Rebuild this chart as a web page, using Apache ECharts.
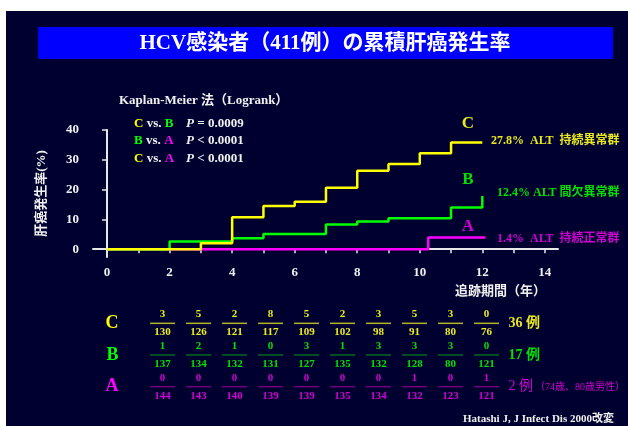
<!DOCTYPE html>
<html>
<head>
<meta charset="utf-8">
<script src="https://cdn.jsdelivr.net/npm/echarts@6/dist/echarts.min.js"></script>
<style>
html, body { margin: 0; padding: 0; background: #fff; }
#chart1 { width: 628px; height: 426px; }
</style>
</head>
<body>
<div id="chart1"></div>
<script>
// axis ticks
var xTicks = [0, 1, 2, 3, 4, 5, 6, 7, 8, 9, 10, 11, 12, 13, 14];
var xLabels = [0, 2, 4, 6, 8, 10, 12, 14];
var yTicks = [0, 10, 20, 30, 40];

// Kaplan-Meier steps [year, cumulative %]
var stepC = [[0, 0], [3, 2.0], [4, 10.7], [5, 14.5], [6, 15.9], [7, 20.6], [8, 26.3], [9, 28.6], [10, 32.2], [11, 35.8], [12, 35.8]];
var stepB = [[0, 0], [2, 2.6], [4, 3.7], [5, 5.1], [7, 8.3], [8, 9.3], [9, 10.4], [11, 14.0], [12, 17.9]];
var stepA = [[0, 0], [10.27, 3.9], [12.1, 3.9]];

// table under the chart
var groups = ['C', 'B', 'A'];
var groupTotals = ['36 例', '17 例', '2 例'];
var groupNote = '（74歳、80歳男性）';
var columns = ['1', '2', '3', '4', '5', '6', '7', '8', '9', '10'];
var eventsC = [3, 5, 2, 8, 5, 2, 3, 5, 3, 0];
var atRiskC = [130, 126, 121, 117, 109, 102, 98, 91, 80, 76];
var eventsB = [1, 2, 1, 0, 3, 1, 3, 3, 3, 0];
var atRiskB = [137, 134, 132, 131, 127, 135, 132, 128, 80, 121];
var eventsA = [0, 0, 0, 0, 0, 0, 0, 1, 0, 1];
var atRiskA = [144, 143, 140, 139, 139, 135, 134, 132, 123, 121];

var SERIF = '"Liberation Serif", "Noto Sans CJK JP", serif';
var rowStyle = [
    { text: '#ecec20', rule: '#b4b428' },
    { text: '#00e000', rule: '#006a20' },
    { text: '#d000d0', rule: '#72007a' }
];

var cells = [];
[[eventsC, atRiskC], [eventsB, atRiskB], [eventsA, atRiskA]].forEach(function (r, ri) {
    for (var i = 0; i < columns.length; i++) {
        cells.push([i, ri, r[0][i], r[1][i]]);
    }
});

function renderCell(params, api) {
    var p = api.coord([api.value(0), api.value(1)]);
    var st = rowStyle[api.value(1)];
    var font = 'bold 11px ' + SERIF;
    return {
        type: 'group',
        children: [
            { type: 'text', x: p[0], y: p[1] - 9, style: { text: String(api.value(2)), fill: st.text, font: font, align: 'center', verticalAlign: 'middle' } },
            { type: 'line', shape: { x1: p[0] - 12.5, y1: p[1], x2: p[0] + 12.5, y2: p[1] }, style: { stroke: st.rule, lineWidth: 1.5 } },
            { type: 'text', x: p[0], y: p[1] + 9, style: { text: String(api.value(3)), fill: st.text, font: font, align: 'center', verticalAlign: 'middle' } }
        ]
    };
}

var chart = echarts.init(document.getElementById('chart1'));

var option = {
    backgroundColor: '#000030',
    animation: false,
    grid: [
        { left: 93, right: 70, top: 130, bottom: 169 },
        { left: 144.6, width: 374.7, top: 307.5, height: 95 }
    ],
    xAxis: [{
        type: 'value',
        gridIndex: 0,
        min: -0.45,
        max: 14.42,
        splitLine: { show: false },
        axisLine: { lineStyle: { color: '#e8e8e8', width: 2 } },
        axisTick: { show: true, customValues: xTicks, length: 4, lineStyle: { color: '#e8e8e8', width: 1.5 } },
        axisLabel: { customValues: xLabels, color: '#f0f0f0', fontFamily: SERIF, fontWeight: 'bold', fontSize: 13, margin: 9 }
    }, {
        type: 'category',
        gridIndex: 1,
        data: columns,
        show: false
    }],
    yAxis: [{
        type: 'value',
        gridIndex: 0,
        min: -2.6,
        max: 40,
        name: '肝癌発生率(%)',
        nameLocation: 'middle',
        nameRotate: 90,
        nameGap: 45,
        nameTextStyle: { color: '#f0f0f0', fontFamily: SERIF, fontWeight: 'bold', fontSize: 13 },
        splitLine: { show: false },
        axisLine: { show: true, lineStyle: { color: '#e8e8e8', width: 2 } },
        axisTick: { show: true, customValues: yTicks, length: 5, lineStyle: { color: '#e8e8e8', width: 1.5 } },
        axisLabel: { customValues: yTicks, color: '#f0f0f0', fontFamily: SERIF, fontWeight: 'bold', fontSize: 13, margin: 14 }
    }, {
        type: 'category',
        gridIndex: 1,
        data: groups,
        inverse: true,
        axisLine: { show: false },
        axisTick: { show: false },
        axisLabel: {
            margin: 26,
            formatter: function (v) { return '{' + v + '|' + v + '}'; },
            rich: {
                C: { color: '#ffff00', fontFamily: SERIF, fontWeight: 'bold', fontSize: 18 },
                B: { color: '#00ff00', fontFamily: SERIF, fontWeight: 'bold', fontSize: 18 },
                A: { color: '#ff00ff', fontFamily: SERIF, fontWeight: 'bold', fontSize: 18 }
            }
        }
    }, {
        type: 'category',
        gridIndex: 1,
        position: 'right',
        data: groups,
        inverse: true,
        axisLine: { show: false },
        axisTick: { show: false },
        axisLabel: {
            margin: 4,
            align: 'left',
            formatter: function (v, i) {
                if (v === 'A') return '{A|' + groupTotals[i] + '}{n|' + groupNote + '}';
                return '{' + v + '|' + groupTotals[i] + '}';
            },
            rich: {
                C: { color: '#e8e820', fontFamily: SERIF, fontWeight: 'bold', fontSize: 14 },
                B: { color: '#00e000', fontFamily: SERIF, fontWeight: 'bold', fontSize: 14 },
                A: { color: '#d000d0', fontFamily: SERIF, fontSize: 14 },
                n: { color: '#d000d0', fontFamily: SERIF, fontSize: 10, padding: [2, 0, 0, 2] }
            }
        }
    }],
    series: [{
        name: 'A', type: 'line', step: 'end', data: stepA,
        xAxisIndex: 0, yAxisIndex: 0, showSymbol: false,
        lineStyle: { color: '#ff00ff', width: 2.5 }
    }, {
        name: 'B', type: 'line', step: 'end', data: stepB,
        xAxisIndex: 0, yAxisIndex: 0, showSymbol: false,
        lineStyle: { color: '#00ff00', width: 2.5 }
    }, {
        name: 'C', type: 'line', step: 'end', data: stepC,
        xAxisIndex: 0, yAxisIndex: 0, showSymbol: false,
        lineStyle: { color: '#ffff00', width: 2.5 }
    }, {
        type: 'custom',
        xAxisIndex: 1, yAxisIndex: 1,
        data: cells,
        renderItem: renderCell
    }],
    graphic: [
        { type: 'rect', shape: { x: 0, y: 0, width: 628, height: 11 }, style: { fill: '#ffffff' } },
        { type: 'rect', shape: { x: 0, y: 0, width: 6, height: 426 }, style: { fill: '#ffffff' } },
        { type: 'rect', shape: { x: 38, y: 27, width: 575, height: 32 }, style: { fill: '#0000ff' } },
        { type: 'text', x: 325, y: 43.5, style: { text: 'HCV感染者（411例）の累積肝癌発生率', fill: '#ffffff', font: 'bold 21px ' + SERIF, align: 'center', verticalAlign: 'middle' } },
        { type: 'text', x: 119, y: 101, style: { text: 'Kaplan-Meier 法（Logrank）', fill: '#f0f0f0', font: 'bold 13px ' + SERIF, verticalAlign: 'middle' } },
        {
            type: 'text', x: 134, y: 114.5,
            style: {
                text: '{c|C} {w|vs.} {b|B}\n{b|B} {w|vs.} {a|A}\n{c|C} {w|vs.} {a|A}',
                verticalAlign: 'top', lineHeight: 17.5,
                rich: {
                    c: { fill: '#ffff00', font: 'bold 13px ' + SERIF, lineHeight: 17.5 },
                    b: { fill: '#00ff00', font: 'bold 13px ' + SERIF, lineHeight: 17.5 },
                    a: { fill: '#ff00ff', font: 'bold 13px ' + SERIF, lineHeight: 17.5 },
                    w: { fill: '#f0f0f0', font: 'bold 13px ' + SERIF, lineHeight: 17.5 }
                }
            }
        },
        {
            type: 'text', x: 186, y: 114.5,
            style: {
                text: '{p|P} {w|= 0.0009}\n{p|P} {w|< 0.0001}\n{p|P} {w|< 0.0001}',
                verticalAlign: 'top', lineHeight: 17.5,
                rich: {
                    p: { fill: '#f0f0f0', font: 'italic bold 13px ' + SERIF, lineHeight: 17.5 },
                    w: { fill: '#f0f0f0', font: 'bold 13px ' + SERIF, lineHeight: 17.5 }
                }
            }
        },
        { type: 'text', x: 468, y: 124, style: { text: 'C', fill: '#e8e820', font: 'bold 17px ' + SERIF, align: 'center', verticalAlign: 'middle' } },
        { type: 'text', x: 468, y: 180, style: { text: 'B', fill: '#00e000', font: 'bold 17px ' + SERIF, align: 'center', verticalAlign: 'middle' } },
        { type: 'text', x: 468, y: 227, style: { text: 'A', fill: '#d000d0', font: 'bold 17px ' + SERIF, align: 'center', verticalAlign: 'middle' } },
        { type: 'text', x: 491, y: 140.5, style: { text: '27.8%  ALT  持続異常群', fill: '#e8e820', font: 'bold 12px ' + SERIF, verticalAlign: 'middle' } },
        { type: 'text', x: 497, y: 193, style: { text: '12.4% ALT 間欠異常群', fill: '#00e000', font: 'bold 12px ' + SERIF, verticalAlign: 'middle' } },
        { type: 'text', x: 497, y: 238.5, style: { text: '1.4%  ALT  持続正常群', fill: '#d000d0', font: 'bold 12px ' + SERIF, verticalAlign: 'middle' } },
        { type: 'text', x: 455, y: 292, style: { text: '追跡期間（年）', fill: '#f0f0f0', font: 'bold 13px ' + SERIF, verticalAlign: 'middle' } },
        { type: 'text', x: 463, y: 419, style: { text: 'Hatashi J, J Infect Dis 2000改変', fill: '#f0f0f0', font: 'bold 11px ' + SERIF, verticalAlign: 'middle' } }
    ]
};

chart.setOption(option);
</script>
</body>
</html>
